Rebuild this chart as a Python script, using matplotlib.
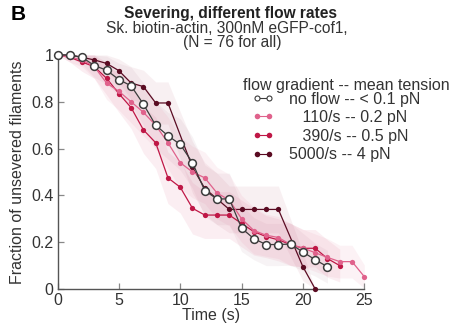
#!/usr/bin/env python3
import matplotlib
matplotlib.use("Agg")
import matplotlib.pyplot as plt
import numpy as np

plt.rcParams["font.family"] = ["Liberation Sans", "DejaVu Sans"]
plt.rcParams["font.size"] = 11.5

# survival fractions (N = 76 each)
TIME_NOFLOW = list(range(0, 23))
NOFLOW = [1.0, 1.0, 0.99, 0.955, 0.935, 0.895, 0.868, 0.79, 0.70, 0.655, 0.618, 0.54,
          0.42, 0.385, 0.385, 0.26, 0.215, 0.19, 0.19, 0.192, 0.158, 0.125, 0.095]
NOFLOW_ERR = [0.0, 0.01, 0.03, 0.05, 0.06, 0.07, 0.08, 0.09, 0.10, 0.10, 0.11, 0.11,
              0.11, 0.11, 0.11, 0.10, 0.09, 0.09, 0.09, 0.09, 0.08, 0.07, 0.07]

TIME_110 = list(range(0, 26))
FLOW_110 = [1.0, 0.99, 0.98, 0.95, 0.88, 0.845, 0.80, 0.755, 0.70, 0.625, 0.54, 0.50,
            0.475, 0.41, 0.38, 0.30, 0.25, 0.23, 0.22, 0.19, 0.175, 0.155, 0.135, 0.117,
            0.117, 0.053]
FLOW_110_ERR = [0.0, 0.02, 0.03, 0.05, 0.07, 0.08, 0.09, 0.10, 0.10, 0.11, 0.11, 0.11,
                0.11, 0.11, 0.11, 0.10, 0.10, 0.09, 0.09, 0.09, 0.08, 0.08, 0.08, 0.07,
                0.07, 0.05]

TIME_390 = list(range(0, 24))
FLOW_390 = [1.0, 0.99, 0.97, 0.95, 0.90, 0.835, 0.775, 0.68, 0.625, 0.475, 0.435, 0.345,
            0.316, 0.316, 0.316, 0.28, 0.245, 0.224, 0.21, 0.19, 0.174, 0.174, 0.13, 0.10]
FLOW_390_ERR = [0.0, 0.02, 0.04, 0.05, 0.07, 0.08, 0.09, 0.10, 0.11, 0.11, 0.11, 0.11,
                0.10, 0.10, 0.10, 0.10, 0.10, 0.09, 0.09, 0.09, 0.08, 0.08, 0.08, 0.07]

TIME_5000 = [0, 1, 2, 3, 4, 5, 6, 7, 8, 9, 11, 12, 13, 14, 15, 16, 17, 18, 20, 21]
FLOW_5000 = [1.0, 1.0, 0.99, 0.979, 0.964, 0.933, 0.88, 0.865, 0.795, 0.795, 0.52, 0.43,
             0.385, 0.34, 0.34, 0.34, 0.34, 0.34, 0.095, 0.0]
FLOW_5000_ERR = [0.0, 0.01, 0.02, 0.03, 0.04, 0.05, 0.07, 0.07, 0.09, 0.09, 0.11, 0.11,
                 0.11, 0.10, 0.10, 0.10, 0.10, 0.10, 0.06, 0.0]

LABELS = ["no flow -- < 0.1 pN", "   110/s -- 0.2 pN", "   390/s -- 0.5 pN", "5000/s -- 4 pN"]
COLORS = ["#3c3c3c", "#e0628c", "#bf1746", "#5a0b22"]
BAND_COLORS = ["#b89aa4", "#e98aa8", "#e06b8e", "#c87a90"]

fig = plt.figure(figsize=(4.62, 3.27), dpi=100)
ax = fig.add_axes([0.1245, 0.1162, 0.664, 0.7156])

series = [
    (TIME_NOFLOW, NOFLOW, NOFLOW_ERR),
    (TIME_110, FLOW_110, FLOW_110_ERR),
    (TIME_390, FLOW_390, FLOW_390_ERR),
    (TIME_5000, FLOW_5000, FLOW_5000_ERR),
]

for (t, y, e), band in zip(series, BAND_COLORS):
    t = np.asarray(t, dtype=float)
    y = np.asarray(y)
    e = np.asarray(e)
    ax.fill_between(t, np.clip(y - e, 0, 1), np.clip(y + e, 0, 1), color=band,
                    alpha=0.11, linewidth=0, zorder=1)

handles = {}
for i in [3, 2, 1, 0]:
    t, y, _ = series[i]
    if i == 0:
        h, = ax.plot(t, y, color=COLORS[i], linewidth=0.9, marker="o", markersize=5.6,
                     markerfacecolor="white", markeredgecolor=COLORS[i],
                     markeredgewidth=1.1, clip_on=False, zorder=6)
    else:
        h, = ax.plot(t, y, color=COLORS[i], linewidth=0.9, marker="o", markersize=3.8,
                     markeredgewidth=0, clip_on=False, zorder=3 + (3 - i))
    handles[i] = h

ax.set_xlim(0, 25)
ax.set_ylim(0, 1)
ax.set_xticks([0, 5, 10, 15, 20, 25])
ax.set_yticks([0, 0.2, 0.4, 0.6, 0.8, 1])
ax.set_yticklabels(["0", "0.2", "0.4", "0.6", "0.8", "1"])
for side in ("top", "right"):
    ax.spines[side].set_visible(False)
for side in ("left", "bottom"):
    ax.spines[side].set_color("#555555")
    ax.spines[side].set_linewidth(1.0)
ax.tick_params(direction="in", length=4.5, width=0.9, color="#888888", labelcolor="#333333")
ax.tick_params(axis="x", pad=3)
ax.tick_params(axis="y", pad=3)
ax.set_xlabel("Time (s)", labelpad=0, color="#333333")
ax.set_ylabel("Fraction of unsevered filaments", labelpad=4, color="#333333")

fig.text(0.526, 0.74, "flow gradient -- mean tension", ha="left", va="center", color="#333333")
leg = ax.legend([handles[i] for i in range(4)], LABELS, loc="upper left",
                bbox_to_anchor=(0.545, 0.72), bbox_transform=fig.transFigure,
                frameon=False, handlelength=1.4, handletextpad=0.95, numpoints=2,
                borderpad=0, borderaxespad=0, labelspacing=0.22, labelcolor="#333333")
for k, lh in enumerate(leg.legend_handles):
    if k == 0:
        lh.set_markersize(3.6)
        lh.set_markeredgewidth(0.8)
    else:
        lh.set_markersize(4.0)
    lh.set_linewidth(0.8)

fig.text(0.022, 0.985, "B", ha="left", va="top", fontsize=15, fontweight="bold")
fig.text(0.5, 0.96, "Severing, different flow rates", ha="center", va="center",
         fontweight="bold", fontsize=11.2, color="#222222")
fig.text(0.49, 0.913, "Sk. biotin-actin, 300nM eGFP-cof1,", ha="center", va="center",
         fontsize=11.2, color="#333333")
fig.text(0.503, 0.869, "(N = 76 for all)", ha="center", va="center", fontsize=11.2,
         color="#333333")

fig.savefig("out.png", dpi=100)
